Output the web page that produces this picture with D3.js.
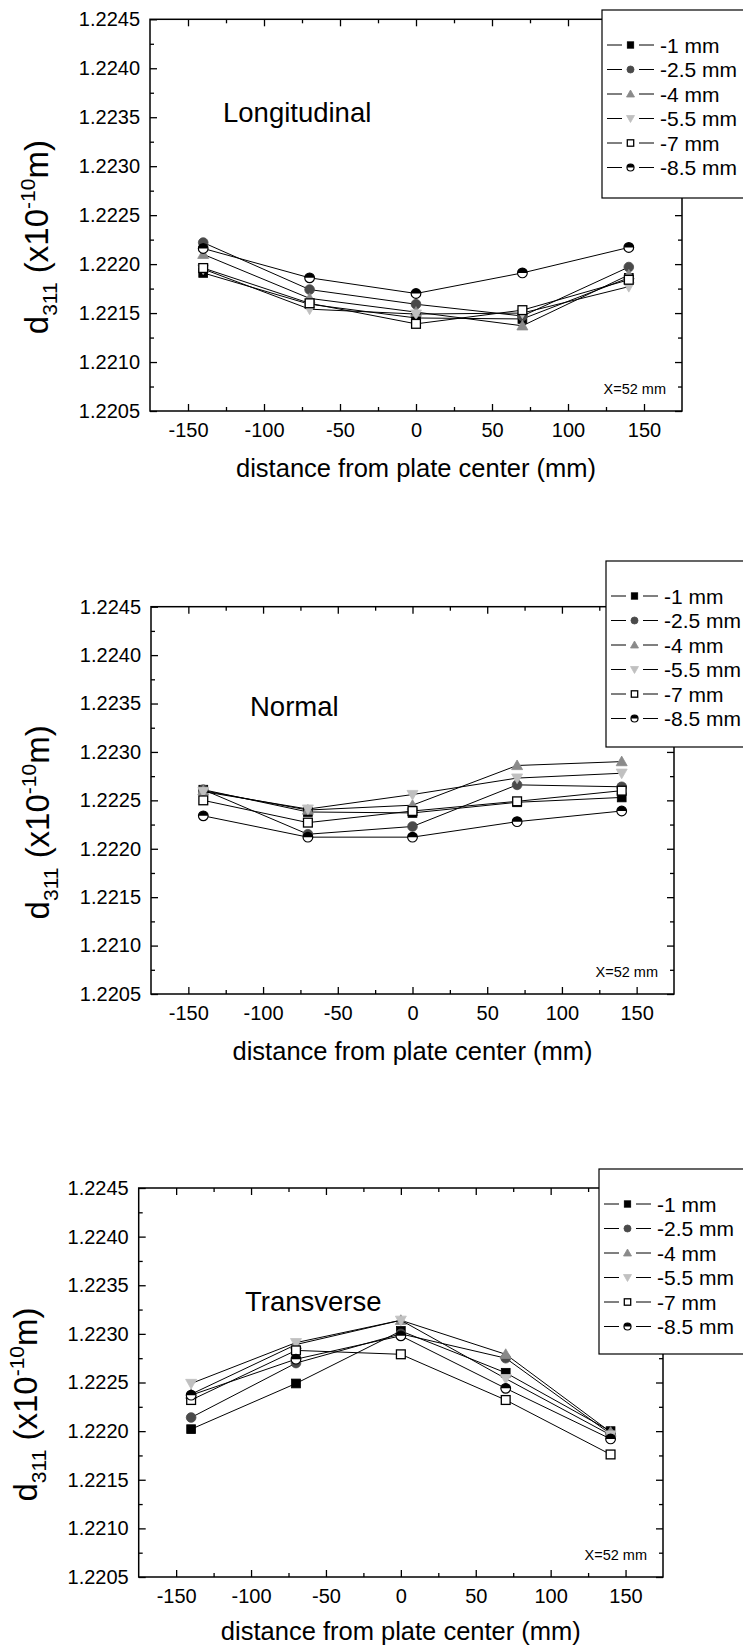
<!DOCTYPE html>
<html>
<head>
<meta charset="utf-8">
<script src="https://cdn.jsdelivr.net/npm/d3@7"></script>
<style>
  html, body { margin: 0; padding: 0; background: #fff; }
  svg { display: block; }
  text { font-family: "Liberation Sans", Arial, Helvetica, sans-serif; fill: #000; }
</style>
</head>
<body>
<svg id="chart" width="743" height="1645"></svg>
<script>
// ---------------- DATA ----------------
const xPositions = [-140, -70, 0, 70, 140];
const seriesNames = ["-1 mm", "-2.5 mm", "-4 mm", "-5.5 mm", "-7 mm", "-8.5 mm"];
const xTickValues = [-150, -100, -50, 0, 50, 100, 150];
const yTickValues = [1.2205, 1.2210, 1.2215, 1.2220, 1.2225, 1.2230, 1.2235, 1.2240, 1.2245];
const panelTitles = ["Longitudinal", "Normal", "Transverse"];
const noteText = "X=52 mm";
const xAxisTitle = "distance from plate center (mm)";

// Longitudinal: one row per series (-1, -2.5, -4, -5.5, -7, -8.5 mm)
const longitudinal = [
  [1.22191, 1.22159, 1.22145, 1.22144, 1.22186],
  [1.22222, 1.22174, 1.22159, 1.22147, 1.22197],
  [1.22210, 1.22165, 1.22151, 1.22137, 1.22189],
  [1.22195, 1.22154, 1.22149, 1.22150, 1.22177],
  [1.22196, 1.22160, 1.22139, 1.22153, 1.22184],
  [1.22216, 1.22186, 1.22170, 1.22191, 1.22217]
];
// Normal
const normal = [
  [1.22261, 1.22238, 1.22237, 1.22248, 1.22253],
  [1.22261, 1.22215, 1.22223, 1.22266, 1.22264],
  [1.22260, 1.22240, 1.22245, 1.22286, 1.22290],
  [1.22259, 1.22241, 1.22256, 1.22273, 1.22278],
  [1.22250, 1.22227, 1.22239, 1.22249, 1.22260],
  [1.22234, 1.22212, 1.22212, 1.22228, 1.22239]
];
// Transverse
const transverse = [
  [1.22202, 1.22249, 1.22303, 1.22260, 1.22200],
  [1.22214, 1.22270, 1.22300, 1.22275, 1.22197],
  [1.22238, 1.22289, 1.22314, 1.22279, 1.22199],
  [1.22249, 1.22291, 1.22314, 1.22254, 1.22196],
  [1.22232, 1.22283, 1.22279, 1.22232, 1.22176],
  [1.22237, 1.22274, 1.22298, 1.22244, 1.22192]
];
const panelData = [longitudinal, normal, transverse];

// ---------------- STYLE / LAYOUT ----------------
const symbolFill = ["#000000", "#4a4a4a", "#8a8a8a", "#c0c0c0", "#ffffff", "half"];
const symbolKind = ["square", "circle", "triUp", "triDown", "square", "halfCircle"];

const layouts = [
  { left: 150, right: 682, top: 19.3, bottom: 411, legend: { x: 602, y: 10, h: 188 }, title: { x: 223, y: 122 }, xTitleOff: 66 },
  { left: 151, right: 674, top: 606.7, bottom: 994, legend: { x: 606, y: 561, h: 186 }, title: { x: 250, y: 716 }, xTitleOff: 66 },
  { left: 138.7, right: 663, top: 1188, bottom: 1577, legend: { x: 599, y: 1169, h: 185 }, title: { x: 245, y: 1311 }, xTitleOff: 63 }
];

const svg = d3.select("#chart");
const FONT = "Liberation Sans, Arial, sans-serif";

function drawSymbol(g, kind, fill, cx, cy, r) {
  if (kind === "square") {
    g.append("rect").attr("x", cx - r).attr("y", cy - r).attr("width", 2 * r).attr("height", 2 * r)
      .attr("fill", fill).attr("stroke", fill === "#ffffff" ? "#000" : fill).attr("stroke-width", fill === "#ffffff" ? 1.3 : 0.8);
  } else if (kind === "circle") {
    g.append("circle").attr("cx", cx).attr("cy", cy).attr("r", r * 1.1).attr("fill", fill).attr("stroke", fill).attr("stroke-width", 0.8);
  } else if (kind === "triUp" || kind === "triDown") {
    const s = r * 1.25;
    const d = kind === "triUp"
      ? `M${cx},${cy - s} L${cx + s},${cy + s * 0.75} L${cx - s},${cy + s * 0.75} Z`
      : `M${cx},${cy + s} L${cx + s},${cy - s * 0.75} L${cx - s},${cy - s * 0.75} Z`;
    g.append("path").attr("d", d).attr("fill", fill).attr("stroke", fill).attr("stroke-width", 0.8);
  } else if (kind === "halfCircle") {
    const rr = r * 1.1;
    g.append("circle").attr("cx", cx).attr("cy", cy).attr("r", rr).attr("fill", "#fff").attr("stroke", "#000").attr("stroke-width", 1.2);
    g.append("path")
      .attr("d", `M${cx - rr},${cy} A${rr},${rr} 0 0 1 ${cx + rr},${cy} Z`)
      .attr("fill", "#000");
  }
}

function styleTicks(a) {
  a.select(".domain").remove();
  a.selectAll("line").attr("stroke", "#000").attr("stroke-width", 1.3);
}

layouts.forEach((L, pi) => {
  const data = panelData[pi];
  const x = d3.scaleLinear().domain([-175, 175]).range([L.left, L.right]);
  const y = d3.scaleLinear().domain([1.2205, 1.2245]).range([L.bottom, L.top]);
  const g = svg.append("g");

  const xMinor = [-125, -75, -25, 25, 75, 125];
  const yMinor = d3.range(0, 8).map(i => 1.22075 + i * 0.0005);

  // bottom axis (ticks inward)
  const gb = g.append("g").attr("transform", `translate(0,${L.bottom})`)
    .call(d3.axisBottom(x).tickValues(xTickValues).tickSize(-7).tickPadding(12).tickFormat(d => String(d)));
  styleTicks(gb);
  gb.selectAll("text").attr("font-size", 20).attr("font-family", FONT).attr("fill", "#000");
  g.append("g").attr("transform", `translate(0,${L.bottom})`)
    .call(d3.axisBottom(x).tickValues(xMinor).tickSize(-4).tickFormat("")).call(styleTicks);

  // top axis
  g.append("g").attr("transform", `translate(0,${L.top})`)
    .call(d3.axisTop(x).tickValues(xTickValues).tickSize(-7).tickFormat("")).call(styleTicks);
  g.append("g").attr("transform", `translate(0,${L.top})`)
    .call(d3.axisTop(x).tickValues(xMinor).tickSize(-4).tickFormat("")).call(styleTicks);

  // left axis
  const gl = g.append("g").attr("transform", `translate(${L.left},0)`)
    .call(d3.axisLeft(y).tickValues(yTickValues).tickSize(-7).tickPadding(10).tickFormat(d3.format(".4f")));
  styleTicks(gl);
  gl.selectAll("text").attr("font-size", 20).attr("font-family", FONT).attr("fill", "#000");
  g.append("g").attr("transform", `translate(${L.left},0)`)
    .call(d3.axisLeft(y).tickValues(yMinor).tickSize(-4).tickFormat("")).call(styleTicks);

  // right axis
  g.append("g").attr("transform", `translate(${L.right},0)`)
    .call(d3.axisRight(y).tickValues(yTickValues).tickSize(-7).tickFormat("")).call(styleTicks);
  g.append("g").attr("transform", `translate(${L.right},0)`)
    .call(d3.axisRight(y).tickValues(yMinor).tickSize(-4).tickFormat("")).call(styleTicks);

  // frame
  g.append("rect").attr("x", L.left).attr("y", L.top).attr("width", L.right - L.left).attr("height", L.bottom - L.top)
    .attr("fill", "none").attr("stroke", "#000").attr("stroke-width", 1.5);

  // data series
  const line = d3.line().x((d, i) => x(xPositions[i])).y(d => y(d));
  data.forEach((vals, si) => {
    const sg = g.append("g");
    sg.append("path").datum(vals).attr("d", line).attr("fill", "none").attr("stroke", "#000").attr("stroke-width", 1);
    vals.forEach((v, i) => drawSymbol(sg, symbolKind[si], symbolFill[si], x(xPositions[i]), y(v), 4.4));
  });

  // note
  g.append("text").attr("x", L.right - 16).attr("y", L.bottom - 17).attr("text-anchor", "end")
    .attr("font-size", 14.5).text(noteText);

  // panel title
  g.append("text").attr("x", L.title.x).attr("y", L.title.y).attr("font-size", 27.5).text(panelTitles[pi]);

  // x axis title
  g.append("text").attr("x", (L.left + L.right) / 2).attr("y", L.bottom + L.xTitleOff).attr("text-anchor", "middle")
    .attr("font-size", 25.5).text(xAxisTitle);

  // y axis title
  const yt = g.append("text")
    .attr("transform", `translate(${L.left - 102},${(L.top + L.bottom) / 2 + 22}) rotate(-90)`)
    .attr("text-anchor", "middle").attr("font-size", 33);
  yt.append("tspan").text("d");
  yt.append("tspan").attr("font-size", 21).attr("dy", 9).text("311");
  yt.append("tspan").attr("dy", -9).text(" (x10");
  yt.append("tspan").attr("font-size", 21).attr("dy", -13).text("-10");
  yt.append("tspan").attr("dy", 13).text("m)");

  // legend
  const lg = g.append("g");
  lg.append("rect").attr("x", L.legend.x).attr("y", L.legend.y).attr("width", 170).attr("height", L.legend.h)
    .attr("fill", "#fff").attr("stroke", "#000").attr("stroke-width", 1.2);
  seriesNames.forEach((name, si) => {
    const cy = L.legend.y + 35 + si * 24.5;
    const lx = L.legend.x;
    lg.append("line").attr("x1", lx + 5).attr("x2", lx + 20).attr("y1", cy).attr("y2", cy).attr("stroke", "#000").attr("stroke-width", 1);
    lg.append("line").attr("x1", lx + 37).attr("x2", lx + 52).attr("y1", cy).attr("y2", cy).attr("stroke", "#000").attr("stroke-width", 1);
    drawSymbol(lg, symbolKind[si], symbolFill[si], lx + 28.5, cy, 3.2);
    lg.append("text").attr("x", lx + 58).attr("y", cy + 7.5).attr("font-size", 21).text(name);
  });
});
</script>
</body>
</html>
